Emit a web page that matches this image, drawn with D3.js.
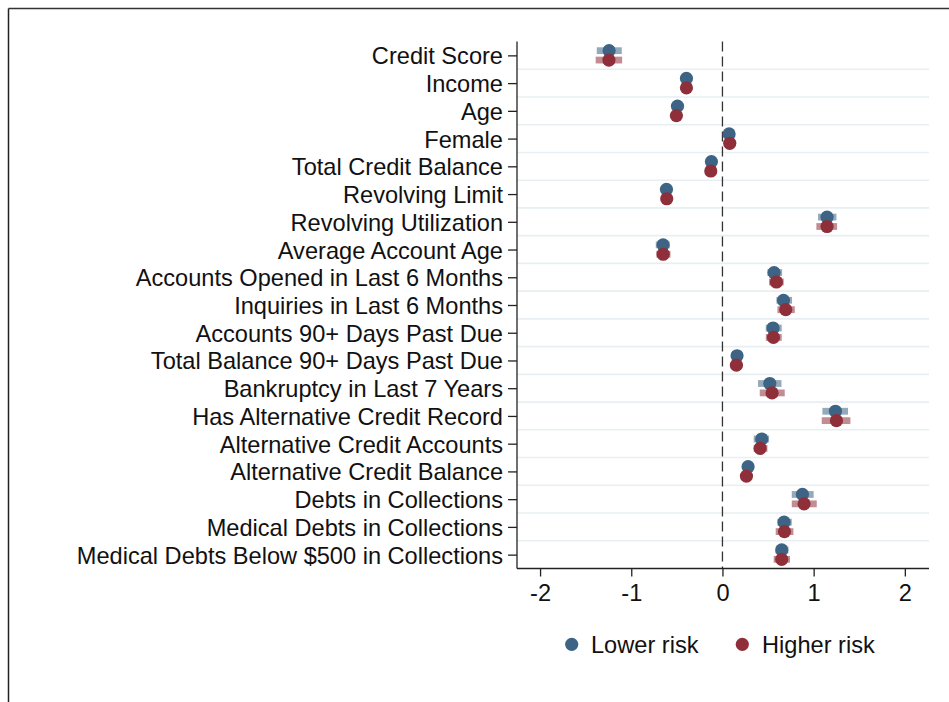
<!DOCTYPE html>
<html>
<head>
<meta charset="utf-8">
<script src="https://cdn.jsdelivr.net/npm/d3@7"></script>
<style>
  html, body { margin: 0; padding: 0; background: #fff; }
  svg { display: block; }
  text { font-family: "Liberation Sans", Arial, Helvetica, sans-serif; fill: #111; }
</style>
</head>
<body>
<svg id="chart" width="949" height="702"></svg>
<script>
// Borrower characteristics (rows, top to bottom)
const categories = [
  "Credit Score",
  "Income",
  "Age",
  "Female",
  "Total Credit Balance",
  "Revolving Limit",
  "Revolving Utilization",
  "Average Account Age",
  "Accounts Opened in Last 6 Months",
  "Inquiries in Last 6 Months",
  "Accounts 90+ Days Past Due",
  "Total Balance 90+ Days Past Due",
  "Bankruptcy in Last 7 Years",
  "Has Alternative Credit Record",
  "Alternative Credit Accounts",
  "Alternative Credit Balance",
  "Debts in Collections",
  "Medical Debts in Collections",
  "Medical Debts Below $500 in Collections"
];

// Lower-risk group: point estimate and confidence interval
const lowerRisk = [-1.243, -0.395, -0.493, 0.073, -0.121, -0.614, 1.147, -0.651, 0.566, 0.669, 0.555, 0.160, 0.519, 1.239, 0.431, 0.281, 0.877, 0.676, 0.650];
const lowerLo   = [-1.378, -0.420, -0.520, 0.050, -0.145, -0.640, 1.048, -0.731, 0.493, 0.592, 0.475, 0.135, 0.390, 1.096, 0.343, 0.255, 0.760, 0.603, 0.584];
const lowerHi   = [-1.104, -0.370, -0.466, 0.096, -0.097, -0.588, 1.250, -0.578, 0.654, 0.763, 0.650, 0.185, 0.647, 1.377, 0.511, 0.307, 1.000, 0.760, 0.724];

// Higher-risk group: point estimate and confidence interval
const higherRisk = [-1.245, -0.395, -0.505, 0.080, -0.128, -0.611, 1.147, -0.650, 0.592, 0.694, 0.559, 0.153, 0.544, 1.250, 0.413, 0.263, 0.895, 0.680, 0.650];
const higherLo   = [-1.390, -0.420, -0.530, 0.055, -0.153, -0.636, 1.030, -0.724, 0.511, 0.603, 0.475, 0.128, 0.409, 1.089, 0.343, 0.238, 0.760, 0.584, 0.562];
const higherHi   = [-1.100, -0.370, -0.480, 0.105, -0.103, -0.586, 1.257, -0.570, 0.672, 0.793, 0.650, 0.178, 0.683, 1.403, 0.493, 0.288, 1.034, 0.778, 0.741];

const xTicks = [-2, -1, 0, 1, 2];
const seriesNames = ["Lower risk", "Higher risk"];

const colors = { lower: "#3d6484", higher: "#8e2f3a" };

const svg = d3.select("#chart");
const plotLeft = 517, plotRight = 929, plotTop = 41.5, plotBottom = 568.5;
const fontSize = 23.6;

const x = d3.scaleLinear().domain([-2.253, 2.265]).range([plotLeft, plotRight]);
const y = d3.scalePoint().domain(categories).range([plotTop, plotBottom]).padding(0.5);
const step = y.step();

// Outer frame (top and left edges)
svg.append("line").attr("x1", 8.5).attr("x2", 949).attr("y1", 8.5).attr("y2", 8.5)
  .attr("stroke", "#333").attr("stroke-width", 1.5);
svg.append("line").attr("x1", 8.5).attr("x2", 8.5).attr("y1", 8.5).attr("y2", 702)
  .attr("stroke", "#222").attr("stroke-width", 1.5);

// Separators between rows
svg.append("g").selectAll("line")
  .data(categories.slice(1))
  .join("line")
  .attr("x1", plotLeft).attr("x2", plotRight)
  .attr("y1", d => y(d) - step / 2).attr("y2", d => y(d) - step / 2)
  .attr("stroke", "#e7eff2").attr("stroke-width", 1.6);

// Reference line at zero
svg.append("line")
  .attr("x1", x(0)).attr("x2", x(0)).attr("y1", plotTop).attr("y2", plotBottom)
  .attr("stroke", "#333").attr("stroke-width", 1.3).attr("stroke-dasharray", "10,5");

// Axes
const yAxis = d3.axisLeft(y).tickSize(9).tickPadding(5);
const gy = svg.append("g").attr("transform", `translate(${plotLeft},0)`).call(yAxis);
gy.select(".domain").attr("d", `M0,${plotTop}V${plotBottom}`).attr("stroke", "#222").attr("stroke-width", 1.3);
gy.selectAll(".tick line").attr("stroke", "#222").attr("stroke-width", 1.3);
gy.selectAll(".tick text").attr("font-size", fontSize).attr("fill", "#111")
  .attr("font-family", "\"Liberation Sans\", Arial, sans-serif").attr("dy", "0.36em");

const xAxis = d3.axisBottom(x).tickValues(xTicks).tickFormat(d => d < 0 ? "-" + Math.abs(d) : String(d))
  .tickSize(8).tickPadding(8);
const gx = svg.append("g").attr("transform", `translate(0,${plotBottom})`).call(xAxis);
gx.select(".domain").attr("d", `M${plotLeft},0H${plotRight}`).attr("stroke", "#222").attr("stroke-width", 1.3);
gx.selectAll(".tick line").attr("stroke", "#222").attr("stroke-width", 1.3);
gx.selectAll(".tick text").attr("font-size", fontSize).attr("fill", "#111")
  .attr("font-family", "\"Liberation Sans\", Arial, sans-serif");

// Point estimates with confidence bars for both groups
const offset = 4.7;
const groups = [
  { key: "lower", est: lowerRisk, lo: lowerLo, hi: lowerHi, dy: -offset },
  { key: "higher", est: higherRisk, lo: higherLo, hi: higherHi, dy: offset }
];

const plot = svg.append("g");
groups.forEach(g => {
  const rows = categories.map((c, i) => ({ c, est: g.est[i], lo: g.lo[i], hi: g.hi[i] }));
  plot.append("g").selectAll("rect")
    .data(rows)
    .join("rect")
    .attr("x", d => x(d.lo))
    .attr("width", d => x(d.hi) - x(d.lo))
    .attr("y", d => y(d.c) + g.dy - 3.4)
    .attr("height", 6.8)
    .attr("fill", colors[g.key])
    .attr("fill-opacity", 0.55);
  plot.append("g").selectAll("circle")
    .data(rows)
    .join("circle")
    .attr("cx", d => x(d.est))
    .attr("cy", d => y(d.c) + g.dy)
    .attr("r", 6.6)
    .attr("fill", colors[g.key]);
});

// Legend
const legend = svg.append("g");
const legendItems = [
  { name: seriesNames[0], color: colors.lower, cx: 571.7, tx: 591 },
  { name: seriesNames[1], color: colors.higher, cx: 742.3, tx: 762 }
];
legendItems.forEach(it => {
  legend.append("circle").attr("cx", it.cx).attr("cy", 644.3).attr("r", 6.6).attr("fill", it.color);
  legend.append("text").attr("x", it.tx).attr("y", 644.3).attr("dy", "0.36em")
    .attr("font-size", fontSize).text(it.name);
});
</script>
</body>
</html>
